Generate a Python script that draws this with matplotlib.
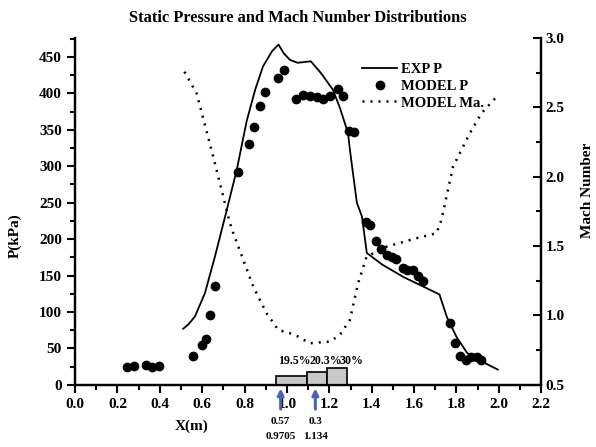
import numpy as np
import matplotlib
matplotlib.use('Agg')
import matplotlib.pyplot as plt
from matplotlib.lines import Line2D

plt.rcParams['font.family'] = 'Liberation Serif'
plt.rcParams['font.weight'] = 'bold'

# EXP P (solid line)
exp_x = [0.51, 0.535, 0.566, 0.613, 0.66, 0.716, 0.763, 0.81, 0.85, 0.887,
         0.93, 0.96, 0.985, 1.014, 1.05, 1.113, 1.16, 1.217, 1.25, 1.288,
         1.297, 1.33, 1.354, 1.377, 1.45, 1.55, 1.65, 1.72, 1.755, 1.80,
         1.85, 1.92, 1.995]
exp_p = [77, 83, 94, 126, 176, 240, 295, 362, 405, 437,
         458, 467, 455, 446, 442, 444, 428, 405, 380, 346,
         323, 250, 231, 181, 165, 148, 134, 124, 93, 66,
         44, 32, 21]

# MODEL P (dots)
mod_x = [0.246, 0.28, 0.333, 0.365, 0.396, 0.558, 0.598, 0.618, 0.637, 0.66,
         0.77, 0.819, 0.844, 0.871, 0.895, 0.959, 0.986,
         1.042, 1.077, 1.108, 1.14, 1.171, 1.203, 1.242, 1.266, 1.294, 1.318,
         1.373, 1.392, 1.42, 1.442, 1.47, 1.494, 1.517, 1.546, 1.568, 1.593,
         1.62, 1.643, 1.769, 1.792, 1.819, 1.843, 1.871, 1.895, 1.918]
mod_p = [25, 26.5, 27.5, 25, 26.5, 40, 55, 63, 96, 135,
         292, 330, 354, 382, 402, 421, 432,
         392, 398, 396, 395, 392, 396, 406, 397, 349, 347,
         224, 220, 198, 187, 178, 176, 173, 161, 158, 157,
         150, 143, 85, 57, 39, 34, 38, 38, 34]

# MODEL Ma. (dotted line, right axis)
ma_x = [0.516, 0.574, 0.652, 0.731, 0.747, 0.841, 0.904, 0.959, 1.014, 1.053,
        1.108, 1.203, 1.25, 1.297, 1.336, 1.376, 1.47, 1.612, 1.706, 1.729,
        1.784, 1.863, 1.918, 1.997]
ma_m = [2.757, 2.60, 2.145, 1.665, 1.593, 1.208, 1.016, 0.896, 0.872, 0.848,
        0.80, 0.812, 0.86, 0.968, 1.233, 1.424, 1.496, 1.557, 1.593, 1.689,
        2.073, 2.313, 2.457, 2.589]

# grey blocks on the axis
blk_left = [0.95, 1.095, 1.19]
blk_width = [0.145, 0.095, 0.095]
blk_h = [12.4, 18, 23]
blk_lbl = ['19.5%', '20.3%', '30%']
blk_lbl_x = [0.958, 1.108, 1.25]

arrow_x = [0.9705, 1.134]
arrow_top = ['0.57', '0.3']
arrow_bot = ['0.9705', '1.134']

fig = plt.figure(figsize=(5.96, 4.47), dpi=100)
ax = fig.add_axes([0.126, 0.139, 0.782, 0.776])
ax2 = ax.twinx()

ax.plot(exp_x, exp_p, color='black', lw=1.3)
ax.plot(mod_x, mod_p, 'o', color='black', ms=6)
ax2.plot(ma_x, ma_m, color='black', lw=1.8, linestyle=(0, (0.8, 2.4)))

ax.bar(blk_left, blk_h, width=blk_width, align='edge', color='#c8c8c8',
       edgecolor='black', lw=1.2, zorder=3)
for xl, t in zip(blk_lbl_x, blk_lbl):
    ax.text(xl, 25, t, fontsize=8.6, fontweight='bold', ha='left', va='bottom')

for xa, t1, t2 in zip(arrow_x, arrow_top, arrow_bot):
    ax.annotate('', xy=(xa, -1), xytext=(xa, -37), annotation_clip=False,
                arrowprops=dict(arrowstyle='-|>', color='#4a64b4', lw=2.2,
                                mutation_scale=9))
    ax.text(xa, -44, t1, fontsize=8, ha='center', va='top', clip_on=False)
    ax.text(xa, -64, t2, fontsize=8, ha='center', va='top', clip_on=False)

ax.set_xlim(0, 2.2)
ax.set_ylim(0, 476)
ax2.set_ylim(0.5, 3.0)
ax.set_xticks(np.arange(0, 2.21, 0.2))
ax.set_xticks(np.arange(0.1, 2.2, 0.2), minor=True)
ax.set_yticks(np.arange(0, 451, 50))
ax.set_yticks(np.arange(25, 476, 50), minor=True)
ax2.set_yticks(np.arange(0.5, 3.01, 0.5))
ax2.set_yticks(np.arange(0.75, 3.0, 0.5), minor=True)

for a in (ax, ax2):
    a.spines['top'].set_visible(False)
    for s in a.spines.values():
        s.set_linewidth(1.6)
ax.tick_params(which='both', direction='out', width=1.5, labelsize=11)
ax.tick_params(which='major', length=6)
ax.tick_params(which='minor', length=3.5)
ax2.tick_params(which='both', direction='in', width=1.5, labelsize=11)
ax2.tick_params(which='major', length=6, pad=3)
ax2.tick_params(which='minor', length=3.5)
ax.xaxis.set_major_formatter(plt.FormatStrFormatter('%.1f'))
ax2.yaxis.set_major_formatter(plt.FormatStrFormatter('%.1f'))

ax.set_xlabel('X(m)', fontsize=11, fontweight='bold')
ax.xaxis.set_label_coords(0.25, -0.1)
ax.set_ylabel('P(kPa)', fontsize=11, fontweight='bold')
ax.yaxis.set_label_coords(-0.115, 0.43)
ax2.set_ylabel('Mach Number', fontsize=11, fontweight='bold')
ax2.yaxis.set_label_coords(1.085, 0.56)

fig.suptitle('Static Pressure and Mach Number Distributions', fontsize=11.8,
             fontweight='bold', y=0.978)

handles = [Line2D([], [], color='black', lw=1.3),
           Line2D([], [], marker='o', ls='none', color='black', ms=6),
           Line2D([], [], color='black', lw=1.8, linestyle=(0, (0.8, 2.4)))]
ax2.legend(handles, ['EXP P', 'MODEL P', 'MODEL Ma.'], loc='upper left',
           bbox_to_anchor=(0.6, 0.95), frameon=False, fontsize=10.5,
           handlelength=2.4, handletextpad=0.3, labelspacing=0.25,
           borderpad=0)

fig.savefig('out.png', dpi=100)
